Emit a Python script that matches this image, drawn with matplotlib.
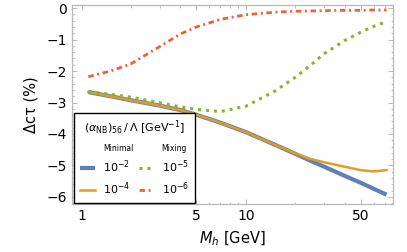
#!/usr/bin/env python3
"""Change of lifetime vs Higgs mass for several (alpha_NB)_56 / Lambda couplings."""

import matplotlib
matplotlib.use("Agg")

import matplotlib.pyplot as plt
from matplotlib.lines import Line2D
from matplotlib.ticker import FixedLocator, NullFormatter, FuncFormatter

# Higgs mass grid [GeV]
mass = [1.1, 1.5, 2, 3, 4, 5, 7, 10, 15, 20, 25, 30, 40, 50, 60, 72]

# Delta c tau (%) for each coupling
dct_1e2 = [-2.67, -2.80, -2.93, -3.10, -3.24, -3.39, -3.64, -3.94,
           -4.34, -4.63, -4.86, -5.04, -5.33, -5.55, -5.74, -5.93]
dct_1e4 = [-2.67, -2.80, -2.93, -3.10, -3.24, -3.39, -3.64, -3.94,
           -4.34, -4.62, -4.80, -4.90, -5.04, -5.15, -5.19, -5.15]
dct_1e5 = [-2.65, -2.74, -2.83, -3.01, -3.14, -3.22, -3.29, -3.12,
           -2.64, -2.20, -1.80, -1.45, -1.03, -0.77, -0.58, -0.43]
dct_1e6 = [-2.18, -2.00, -1.77, -1.22, -0.82, -0.60, -0.36, -0.21,
           -0.13, -0.10, -0.09, -0.08, -0.07, -0.07, -0.06, -0.06]

labels = ["$10^{-2}$", "$10^{-4}$", "$10^{-5}$", "$10^{-6}$"]
x_major = [1, 5, 10, 50]
x_minor = [2, 3, 4, 6, 7, 8, 9, 20, 30, 40, 60, 70]

BLUE = "#5E81B5"
ORANGE = "#E19C24"
GREEN = "#8FB032"
RED = "#EB6235"
FRAME = "#b8b8b8"

fig = plt.figure(figsize=(4.07, 2.52), dpi=100)
ax = fig.add_axes([0.177, 0.19, 0.789, 0.789])

l1, = ax.plot(mass, dct_1e2, color=BLUE, lw=3.0, solid_capstyle="butt")
l2, = ax.plot(mass, dct_1e4, color=ORANGE, lw=1.8)
l3, = ax.plot(mass, dct_1e5, color=GREEN, lw=2.2, dashes=(1.0, 1.6))
l4, = ax.plot(mass, dct_1e6, color=RED, lw=2.0, dashes=(2.0, 1.3, 0.7, 1.3))

ax.set_xscale("log")
ax.set_xlim(0.875, 79)
ax.set_ylim(-6.23, 0.09)

ax.xaxis.set_major_locator(FixedLocator(x_major))
ax.xaxis.set_minor_locator(FixedLocator(x_minor))
ax.xaxis.set_major_formatter(FuncFormatter(lambda v, p: f"{v:g}"))
ax.xaxis.set_minor_formatter(NullFormatter())
ax.yaxis.set_major_locator(FixedLocator(range(-6, 1)))
ax.yaxis.set_minor_locator(FixedLocator([i / 5 for i in range(-31, 1)]))

ax.tick_params(which="both", direction="in", top=True, right=True,
               color=FRAME, labelsize=10, labelcolor="black")
ax.tick_params(which="major", length=3.5, width=0.7)
ax.tick_params(which="minor", length=1.8, width=0.6)
for s in ax.spines.values():
    s.set_color(FRAME)
    s.set_linewidth(0.9)

ax.set_xlabel("$M_h$ [GeV]", fontsize=10.5, labelpad=5)
ax.set_ylabel("Δcτ (%)", fontsize=10.5, labelpad=6)

# legend: header row per column, then the couplings
blank = Line2D([], [], lw=0)
handles = [blank, l1, l2, blank, l3, l4]
names = ["Minimal", labels[0], labels[1], "Mixing", labels[2], labels[3]]
leg = ax.legend(handles, names, ncol=2, loc="lower left",
                bbox_to_anchor=(0.006, 0.005), borderaxespad=0,
                title=r"$(\alpha_{\rm NB})_{56}\,/\,\Lambda\ [\mathrm{GeV}^{-1}]$",
                title_fontsize=8, fontsize=8, fancybox=False,
                framealpha=1, edgecolor="black", handlelength=1.3,
                handletextpad=0.75, columnspacing=0.5, labelspacing=0.5,
                borderpad=0.55)
leg.get_frame().set_linewidth(1.0)
for t in (leg.get_texts()[0], leg.get_texts()[3]):
    t.set_fontsize(5.5)

fig.savefig("out.png", dpi=100)
